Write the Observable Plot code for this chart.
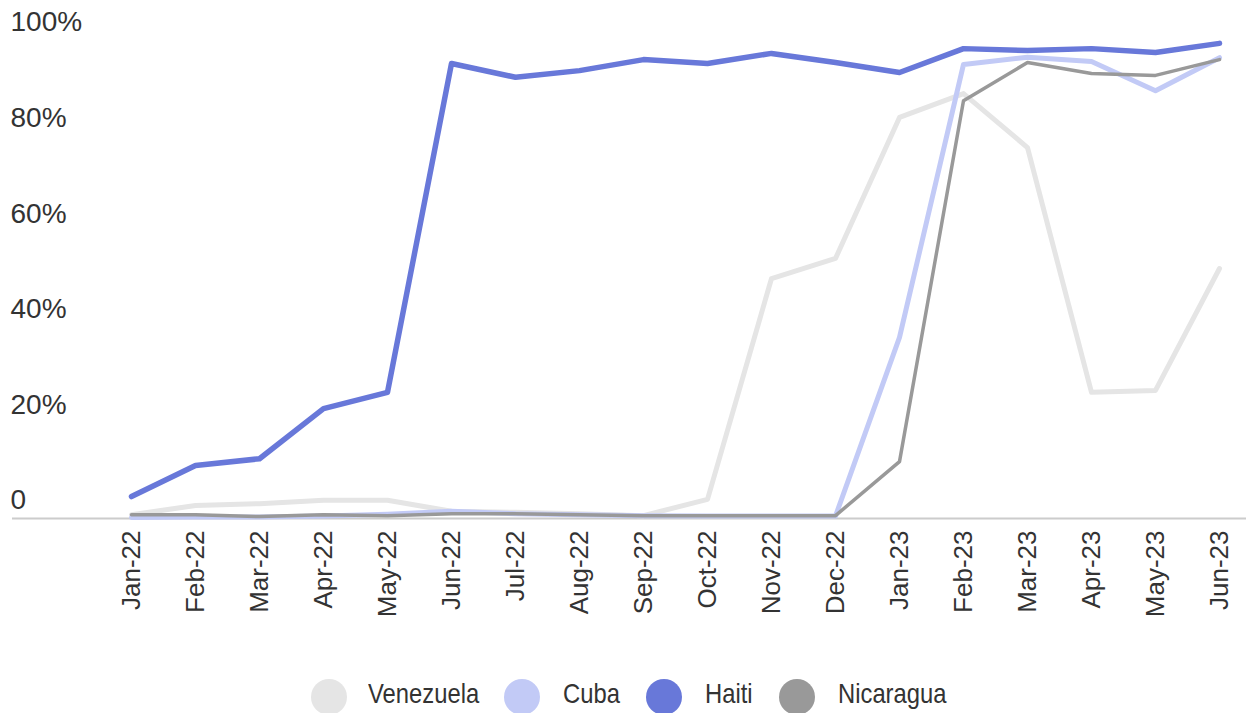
<!DOCTYPE html>
<html>
<head>
<meta charset="utf-8">
<script src="https://cdn.jsdelivr.net/npm/d3@7"></script>
<script src="https://cdn.jsdelivr.net/npm/@observablehq/plot@0.6"></script>
<style>
  html, body { margin: 0; padding: 0; background: #fff; overflow: hidden; }
  #chart svg { display: block; }
  #legend { position: relative; width: 1246px; height: 53px;
            font-family: "Liberation Sans", Arial, sans-serif; font-size: 28px; color: #333; }
  .sw { position: absolute; width: 36px; height: 36px; border-radius: 50%; top: 19px; }
  .lab { position: absolute; top: 18px; line-height: 32px; transform: scaleX(0.85); transform-origin: left center; white-space: nowrap; }
</style>
</head>
<body>
<div id="chart"></div>
<div id="legend"></div>
<script>
const months = ["Jan-22","Feb-22","Mar-22","Apr-22","May-22","Jun-22","Jul-22","Aug-22","Sep-22","Oct-22","Nov-22","Dec-22","Jan-23","Feb-23","Mar-23","Apr-23","May-23","Jun-23"];
const venezuela = [0.8,2.7,3.1,3.8,3.8,1.5,1.3,1.0,0.6,4.0,50.2,54.4,83.9,88.9,77.6,26.4,26.8,52.3];
const cuba      = [0.2,0.3,0.3,0.5,0.9,1.5,1.0,0.8,0.6,0.5,0.5,0.5,37.9,95.0,96.5,95.6,89.5,96.4];
const haiti     = [4.6,11.1,12.5,23.0,26.4,95.2,92.3,93.7,96.0,95.2,97.3,95.4,93.3,98.3,97.9,98.3,97.5,99.4];
const nicaragua = [0.8,0.8,0.4,0.8,0.6,1.0,1.0,0.8,0.6,0.6,0.6,0.6,11.9,87.4,95.4,93.1,92.7,96.0];
const countries = ["Venezuela","Cuba","Haiti","Nicaragua"];
const colors = ["#e5e5e5","#c2caf6","#6878d9","#999999"];
const widths = [5,5,5.5,3.5];
const yTicks = [0,20,40,60,80,100];
const yLabels = ["0","20%","40%","60%","80%","100%"];

const seriesValues = [venezuela, cuba, haiti, nicaragua];
const series = countries.map((c, k) => months.map((m, i) => ({country: c, month: m, value: seriesValues[k][i]})));

const chart = Plot.plot({
  width: 1246,
  height: 660,
  marginLeft: 131,
  marginRight: 27,
  marginTop: 40,
  marginBottom: 142,
  style: {fontFamily: "'Liberation Sans', Arial, sans-serif", fontSize: "26px", color: "#333", background: "#fff", overflow: "visible"},
  x: {type: "point", domain: months, padding: 0},
  y: {domain: [0, 100], axis: null},
  marks: [
    Plot.ruleY([0], {stroke: "#cccccc", strokeWidth: 2, insetLeft: -119, insetRight: -27}),
    Plot.axisX({tickSize: 0, tickRotate: -90, tickPadding: 12, label: null, fill: "#333"}),
    Plot.text(yTicks, {y: d => d, text: (d, i) => yLabels[i], frameAnchor: "left", dx: -121, dy: -18, textAnchor: "start", fontSize: 28, fill: "#333"}),
    ...series.map((s, k) => Plot.line(s, {x: "month", y: "value", stroke: colors[k], strokeWidth: widths[k]}))
  ]
});
document.getElementById("chart").append(chart);

// legend layout (pixel positions of swatch left edges and label starts)
const swatchLeft = [311, 504, 646, 779];
const labelLeft = [368, 563, 705, 838];
const legend = document.getElementById("legend");
countries.forEach((c, k) => {
  const sw = document.createElement("div");
  sw.className = "sw";
  sw.style.background = colors[k];
  sw.style.left = swatchLeft[k] + "px";
  const t = document.createElement("span");
  t.className = "lab";
  t.textContent = c;
  t.style.left = labelLeft[k] + "px";
  legend.append(sw, t);
});
</script>
</body>
</html>
